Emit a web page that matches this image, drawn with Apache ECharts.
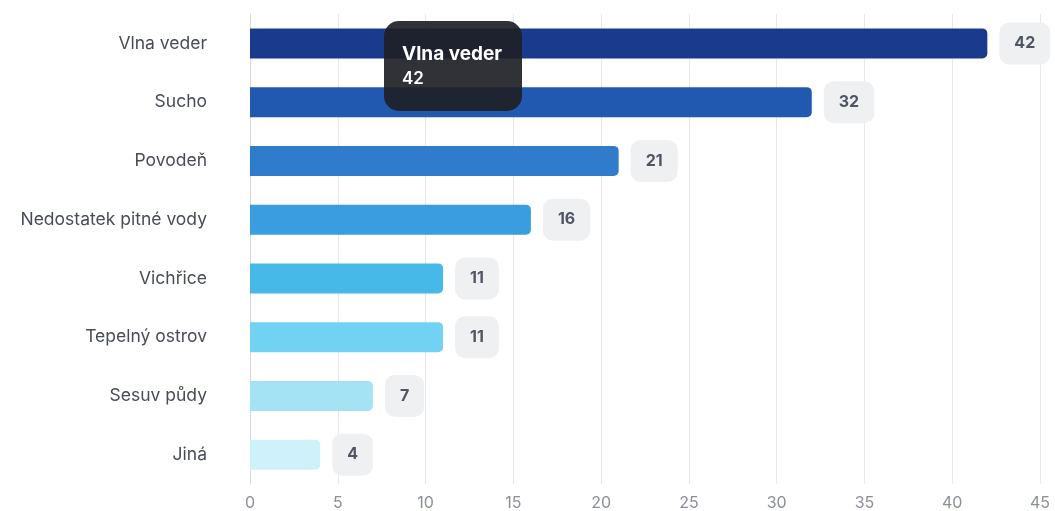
<!DOCTYPE html>
<html>
<head>
<meta charset="utf-8">
<script src="https://cdn.jsdelivr.net/npm/echarts@6/dist/echarts.min.js"></script>
<style>
html,body{margin:0;padding:0;background:#fff;}
#chart{width:1055px;height:511px;}
</style>
</head>
<body>
<div id="chart"></div>
<script>
const categories = ['Vlna veder','Sucho','Povodeň','Nedostatek pitné vody','Vichřice','Tepelný ostrov','Sesuv půdy','Jiná'];
const values = [42, 32, 21, 16, 11, 11, 7, 4];
const barColors = ['#1a3a8e','#2259b0','#2f7bcc','#3a9de0','#47b9e9','#72d2f2','#a4e3f4','#cff1f9'];
const xTicks = [0,5,10,15,20,25,30,35,40,45];

const chart = echarts.init(document.getElementById('chart'), null, {renderer:'canvas'});
chart.setOption({
  animation: false,
  backgroundColor: '#ffffff',
  grid: {left: 250, right: 15, top: 14, bottom: 25, containLabel: false},
  tooltip: {
    trigger: 'item',
    alwaysShowContent: true,
    backgroundColor: 'rgba(30,33,38,0.92)',
    borderWidth: 0,
    padding: [20, 18],
    extraCssText: 'border-radius:15px;box-shadow:none;',
    position: [384, 21],
    formatter: function (p) {
      return '<div style="font-family:Inter,\'Noto Sans\',sans-serif;color:#fff;line-height:25px;width:102px;">' +
        '<div style="font-weight:700;font-size:19px;white-space:nowrap;">' + p.name + '</div>' +
        '<div style="font-size:17px;font-weight:600;">' + p.value + '</div></div>';
    }
  },
  xAxis: {
    type: 'value',
    min: 0, max: 45, interval: 5,
    axisLine: {show: false},
    axisTick: {show: false},
    splitLine: {show: true, lineStyle: {color: '#e6e8eb', width: 1}},
    axisLabel: {color: '#8a8f98', fontSize: 16, fontFamily: 'Inter, "Noto Sans", sans-serif', margin: 11,
      formatter: function (v) { return xTicks.indexOf(v) >= 0 ? String(v) : ''; }}
  },
  yAxis: {
    type: 'category',
    data: categories,
    inverse: true,
    axisLine: {show: true, lineStyle: {color: '#d5d8dd'}},
    axisTick: {show: false},
    axisLabel: {color: '#474c57', fontSize: 17.5, fontFamily: 'Inter, "Noto Sans", sans-serif', margin: 43}
  },
  series: [{
    type: 'bar',
    data: values.map((v, i) => ({value: v, itemStyle: {color: barColors[i]}})),
    barWidth: 30,
    itemStyle: {borderRadius: [0, 5, 5, 0]},
    label: {
      show: true,
      position: 'right',
      distance: 12,
      color: '#4f5563',
      fontSize: 16,
      fontWeight: 'bold',
      fontFamily: 'Inter, "Noto Sans", sans-serif',
      backgroundColor: '#eff0f2',
      borderRadius: 10,
      padding: [12, 15],
      lineHeight: 18
    }
  }]
});
chart.dispatchAction({type: 'showTip', seriesIndex: 0, dataIndex: 0});
</script>
</body>
</html>
